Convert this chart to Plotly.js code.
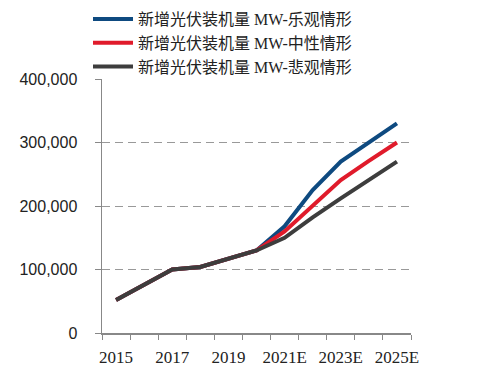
<!DOCTYPE html>
<html><head><meta charset="utf-8">
<script src="https://cdn.plot.ly/plotly-3.0.1.min.js"></script>
<style>html,body{margin:0;padding:0;background:#fff}#chart{width:481px;height:378px}</style>
</head><body><div id="chart"></div>
<script>
const categories = ['2015','2016','2017','2018','2019','2020','2021E','2022E','2023E','2024E','2025E'];
const xTickLabels = ['2015','','2017','','2019','','2021E','','2023E','','2025E'];
const optimistic  = [52000, 76000, 100000, 104000, 117000, 130000, 168000, 225000, 270000, 300000, 330000];
const neutral     = [52000, 76000, 100000, 104000, 117000, 130000, 160000, 200000, 241000, 271000, 300000];
const pessimistic = [52000, 76000, 100000, 104000, 117000, 130000, 150000, 182000, 212000, 241000, 270000];
const seriesNames = ['新增光伏装机量 MW-乐观情形','新增光伏装机量 MW-中性情形','新增光伏装机量 MW-悲观情形'];
const colors = ['#0e4a80','#e01b2b','#3d3d3d'];

const serif = '"Liberation Serif", "Noto Sans CJK SC", serif';
const traces = [optimistic, neutral, pessimistic].map((ys, i) => ({
  type: 'scatter', mode: 'lines', x: categories, y: ys, name: seriesNames[i],
  line: {color: colors[i], width: 4}
}));

const layout = {
  width: 481, height: 378,
  margin: {l: 102, r: 70, t: 79, b: 45, autoexpand: false},
  paper_bgcolor: '#fff', plot_bgcolor: '#fff',
  showlegend: true,
  legend: {xref: 'container', yref: 'container', x: 88/481, y: 1 - 2/378, xanchor: 'left', yanchor: 'top',
    font: {family: serif, size: 16, color: '#222'}, tracegroupgap: 0, itemwidth: 40,
    bgcolor: 'rgba(0,0,0,0)'},
  xaxis: {type: 'category', tickmode: 'array', tickvals: categories, ticktext: xTickLabels, automargin: false, tickangle: 0,
    tickson: 'boundaries', ticks: 'outside', ticklen: 5, tickcolor: '#888', showline: true, linecolor: '#888', linewidth: 1.5,
    showgrid: false, zeroline: false, tickfont: {family: serif, size: 17, color: '#222'}, ticklabelstandoff: 8,
    range: [-0.5, 10.5]},
  yaxis: {range: [0, 400000], dtick: 100000, tickformat: ',', ticks: 'outside', ticklen: 6, tickcolor: '#888', automargin: false,
    showline: true, linecolor: '#888', linewidth: 1.5, showgrid: true, gridcolor: '#999', griddash: '8px,5px', gridwidth: 1,
    zeroline: false, tickfont: {family: '"Liberation Sans", Arial, sans-serif', size: 16, color: '#222'}, ticklabelstandoff: 14}
};
Plotly.newPlot('chart', traces, layout, {displayModeBar: false, staticPlot: true});
</script></body></html>
